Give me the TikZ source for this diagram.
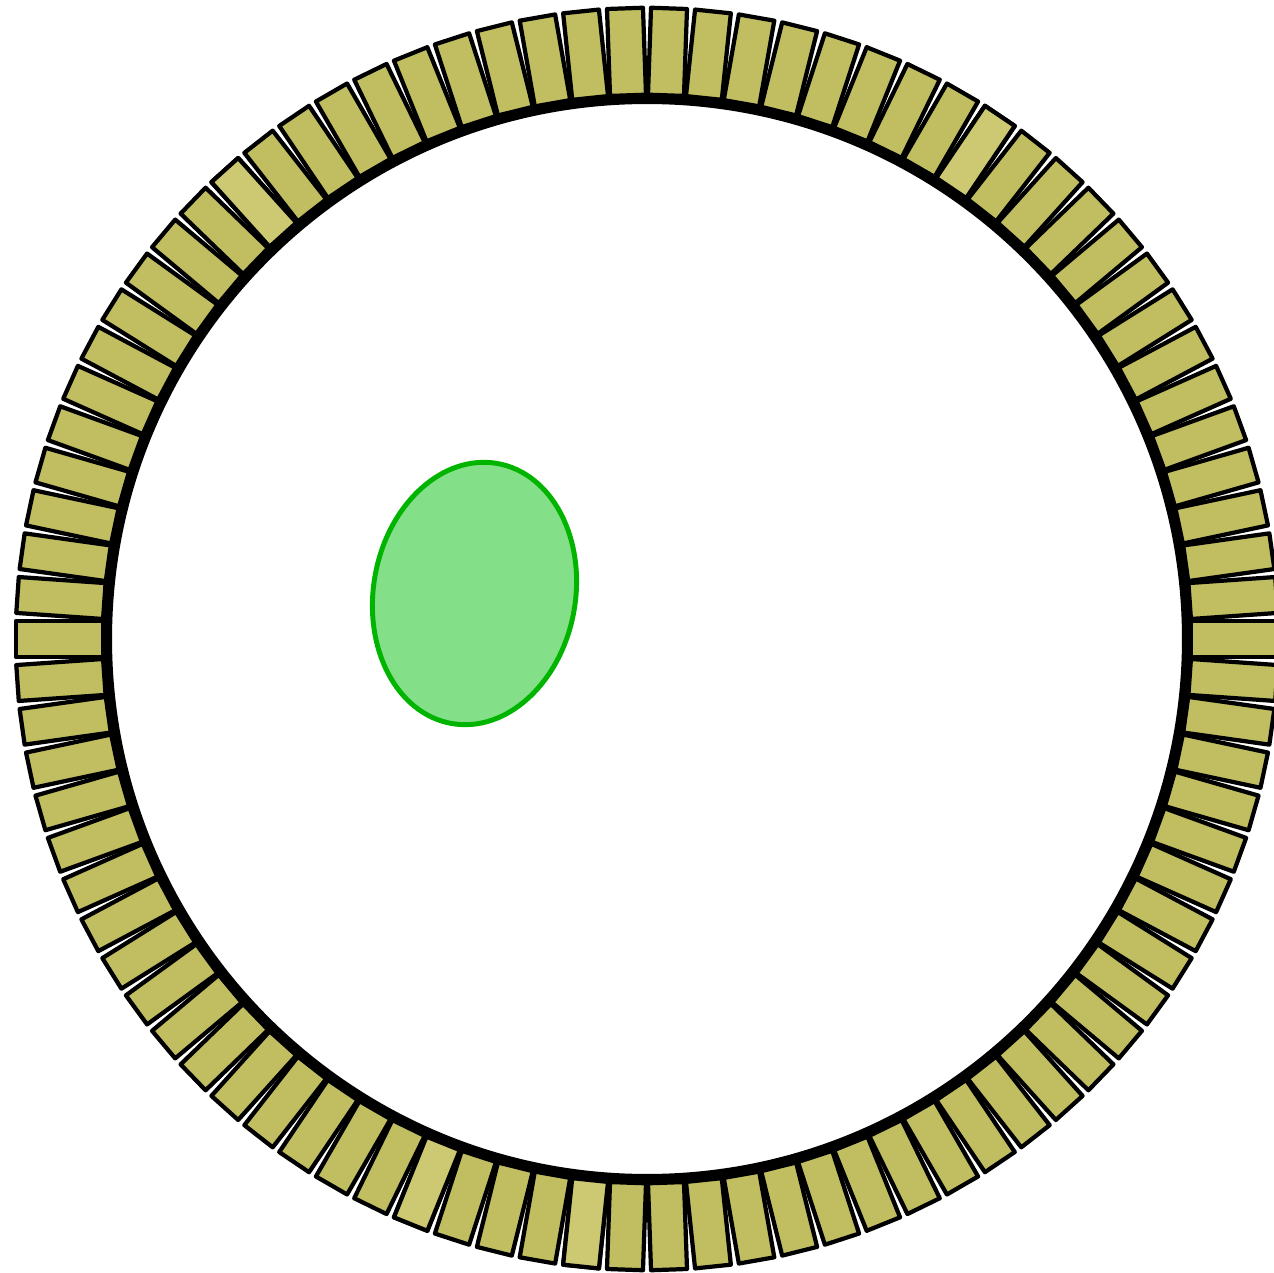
\documentclass[tikz,border=0pt]{standalone}
\definecolor{slotfill}{HTML}{C0BE60}
\definecolor{slotlight}{HTML}{CDC973}
\definecolor{blobfill}{HTML}{84DF89}
\definecolor{blobline}{HTML}{00B400}
\begin{document}
\begin{tikzpicture}[x=0.01cm, y=0.01cm,
		slot/.style={draw=black, line width=1.2pt, fill=slotfill, line join=round},
		rim/.style={draw=black, line width=2.3pt},
		blob/.style={draw=blobline, fill=blobfill, line width=1.4pt}]
		\useasboundingbox (-647,-634) rectangle (626,639);
		\foreach \a in {0,4,...,356} {
				\draw[slot, rotate=\a] (544,-18) rectangle (631,18);
			}
		\foreach \a in {56,132,248,264} {
				\draw[slot, fill=slotlight, rotate=\a] (544,-18) rectangle (631,18);
			}
		\draw[rim] (0,0) circle (539);
		\draw[blob, rotate around={-10:(-172.5,45.5)}] (-172.5,45.5) ellipse (101 and 132);
	\end{tikzpicture}
\end{document}
